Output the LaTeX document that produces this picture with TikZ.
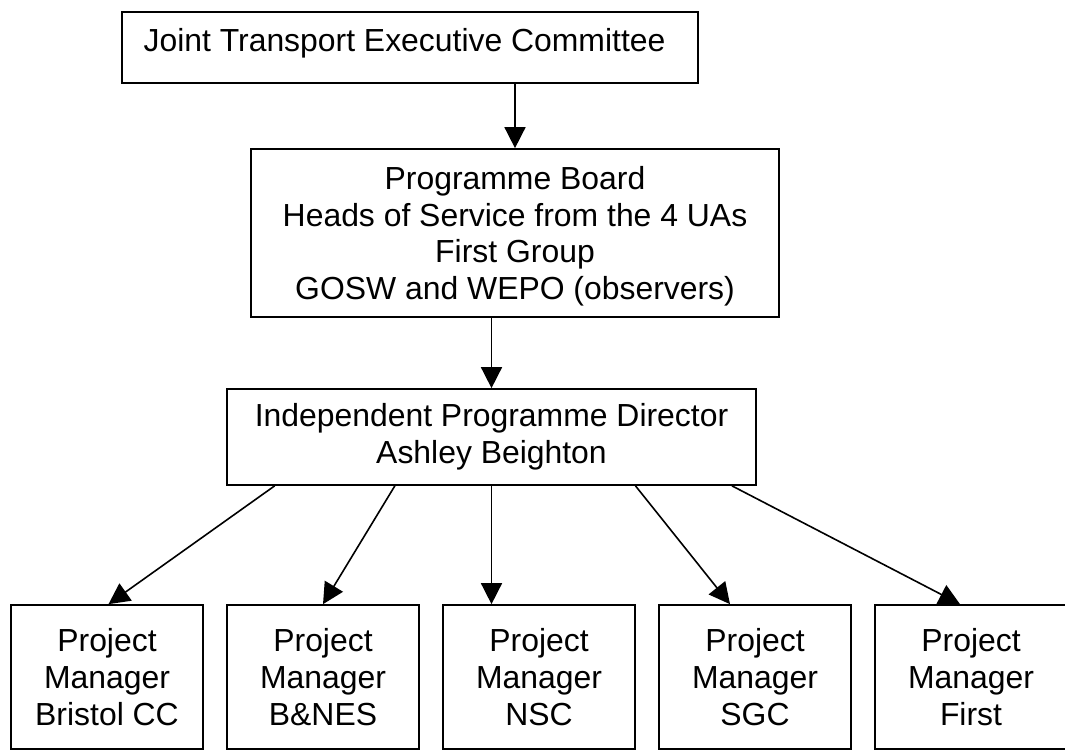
\documentclass[tikz,border=0pt]{standalone}
\usepackage{fontspec}
\setmainfont{Liberation Sans}
\usetikzlibrary{arrows.meta,calc}
\begin{document}
\begin{tikzpicture}[x=1pt,y=-1pt,
  box/.style={draw,line width=1.7pt,rectangle,inner sep=0pt,align=center,
    font=\fontsize{31.9}{36.8}\selectfont},
  pm/.style={box,minimum width=192pt,minimum height=144pt},
  conn/.style={line width=1.6pt,-{Triangle[length=21pt,width=21pt]}}]
\useasboundingbox (0,0) rectangle (1065,753);
\clip (0,0) rectangle (1065,753);
\fill[white] (0,0) rectangle (1065,753);

\node[box,minimum width=576pt,minimum height=71.3pt,text depth=14.7pt] (jtec) at (410,47.4)
  {Joint Transport Executive Committee\hspace*{11pt}};
\node[box,minimum width=528pt,minimum height=168pt,text depth=-2.5pt] (board) at (515,233)
  {Programme Board\\Heads of Service from the 4 UAs\\First Group\\GOSW and WEPO (observers)};
\node[box,minimum width=529pt,minimum height=96pt] (ipd) at (491.5,437)
  {Independent Programme Director\\Ashley Beighton};

\node[pm] (pa) at (107,677) {Project\\Manager\\Bristol CC};
\node[pm] (pb) at (323,677) {Project\\Manager\\B\&NES};
\node[pm] (pc) at (539,677) {Project\\Manager\\NSC};
\node[pm] (pd) at (755,677) {Project\\Manager\\SGC};
\node[pm] (pe) at (971,677) {Project\\Manager\\First};

\draw[conn] (board.north |- jtec.south) -- (board.north);
\draw[conn] (ipd.north |- board.south) -- (ipd.north);
\draw[conn] ([xshift=48.5pt]ipd.south west) -- ([xshift=1.5pt]pa.north);
\draw[conn] ([xshift=168.7pt]ipd.south west) -- (pb.north);
\draw[conn] (ipd.south) -- (ipd.south |- pc.north);
\draw[conn] ([xshift=144pt]ipd.south) -- ([xshift=-25pt]pd.north);
\draw[conn] ([xshift=240.5pt]ipd.south) -- ([xshift=-11pt]pe.north);
\end{tikzpicture}
\end{document}
